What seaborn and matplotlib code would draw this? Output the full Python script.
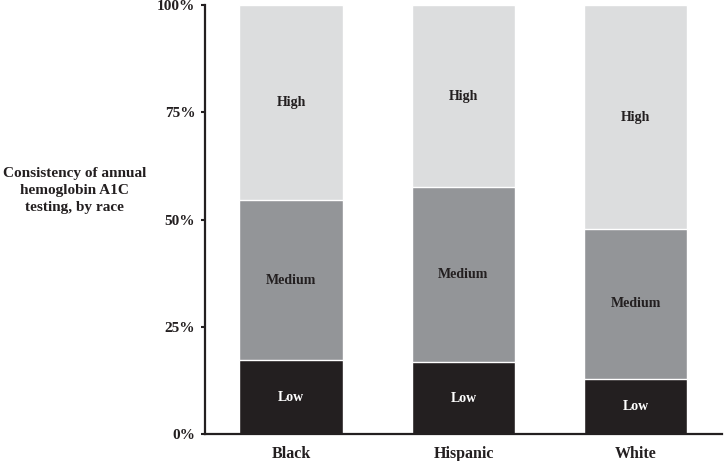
import matplotlib.pyplot as plt
from matplotlib.ticker import FixedLocator, PercentFormatter
import numpy as np
import pandas as pd
import seaborn as sns

races = ["Black", "Hispanic", "White"]
low = [17.2, 16.7, 12.9]
medium = [37.3, 40.8, 34.9]
high = [45.5, 42.5, 52.2]
colors = {"Low": "#231f20", "Medium": "#939598", "High": "#dcddde"}
text_colors = {"Low": "white", "Medium": "#231f20", "High": "#231f20"}

sns.set_style("white")
plt.rcParams["font.family"] = ["Liberation Serif", "DejaVu Serif"]
plt.rcParams["font.weight"] = "bold"

df = pd.DataFrame({"race": races, "Low": low, "Medium": medium, "High": high})
df["cum_low"] = df["Low"]
df["cum_medium"] = df["Low"] + df["Medium"]
df["cum_high"] = df["cum_medium"] + df["High"]

fig = plt.figure(figsize=(7.26, 4.61), dpi=100)
ax = fig.add_axes([0.2824, 0.0586, 0.712, 0.9304])

# draw tallest stack first, then overlay shorter ones
for col, level in [("cum_high", "High"), ("cum_medium", "Medium"), ("cum_low", "Low")]:
    sns.barplot(data=df, x="race", y=col, color=colors[level], saturation=1,
                width=0.6, ax=ax, errorbar=None)

for i, race in enumerate(races):
    starts = {"Low": 0, "Medium": low[i], "High": low[i] + medium[i]}
    sizes = {"Low": low[i], "Medium": medium[i], "High": high[i]}
    for level in ["Low", "Medium", "High"]:
        ax.text(i, starts[level] + sizes[level] / 2, level, ha="center", va="center",
                fontsize=10, fontweight="bold", color=text_colors[level])

ax.set_xlim(-0.5, 2.5)
ax.set_ylim(0, 100)
ax.yaxis.set_major_locator(FixedLocator([0, 25, 50, 75, 100]))
ax.yaxis.set_major_formatter(PercentFormatter(decimals=0))
ax.xaxis.set_minor_locator(FixedLocator([-0.5, 0.5, 1.5, 2.5]))
ax.tick_params(axis="x", which="major", length=0, labelsize=11.5, pad=8.5)
ax.tick_params(axis="x", which="minor", length=4, width=1.5, direction="out", color="#231f20")
ax.tick_params(axis="y", which="major", length=3, width=1.5, direction="out", labelsize=11,
               color="#231f20", pad=4)
ax.tick_params(axis="both", bottom=True, left=True)
for lbl in ax.get_xticklabels() + ax.get_yticklabels():
    lbl.set_fontweight("bold")
    lbl.set_color("#231f20")
ax.set_xlabel("")
ax.set_ylabel("")
sns.despine(ax=ax)
for side in ["left", "bottom"]:
    ax.spines[side].set_linewidth(1.6)
    ax.spines[side].set_color("#231f20")

fig.text(0.103, 0.587, "Consistency of annual\nhemoglobin A1C\ntesting, by race",
         ha="center", va="center", fontsize=11, fontweight="bold", color="#231f20",
         linespacing=1.38)

fig.savefig("out.png", dpi=100)
